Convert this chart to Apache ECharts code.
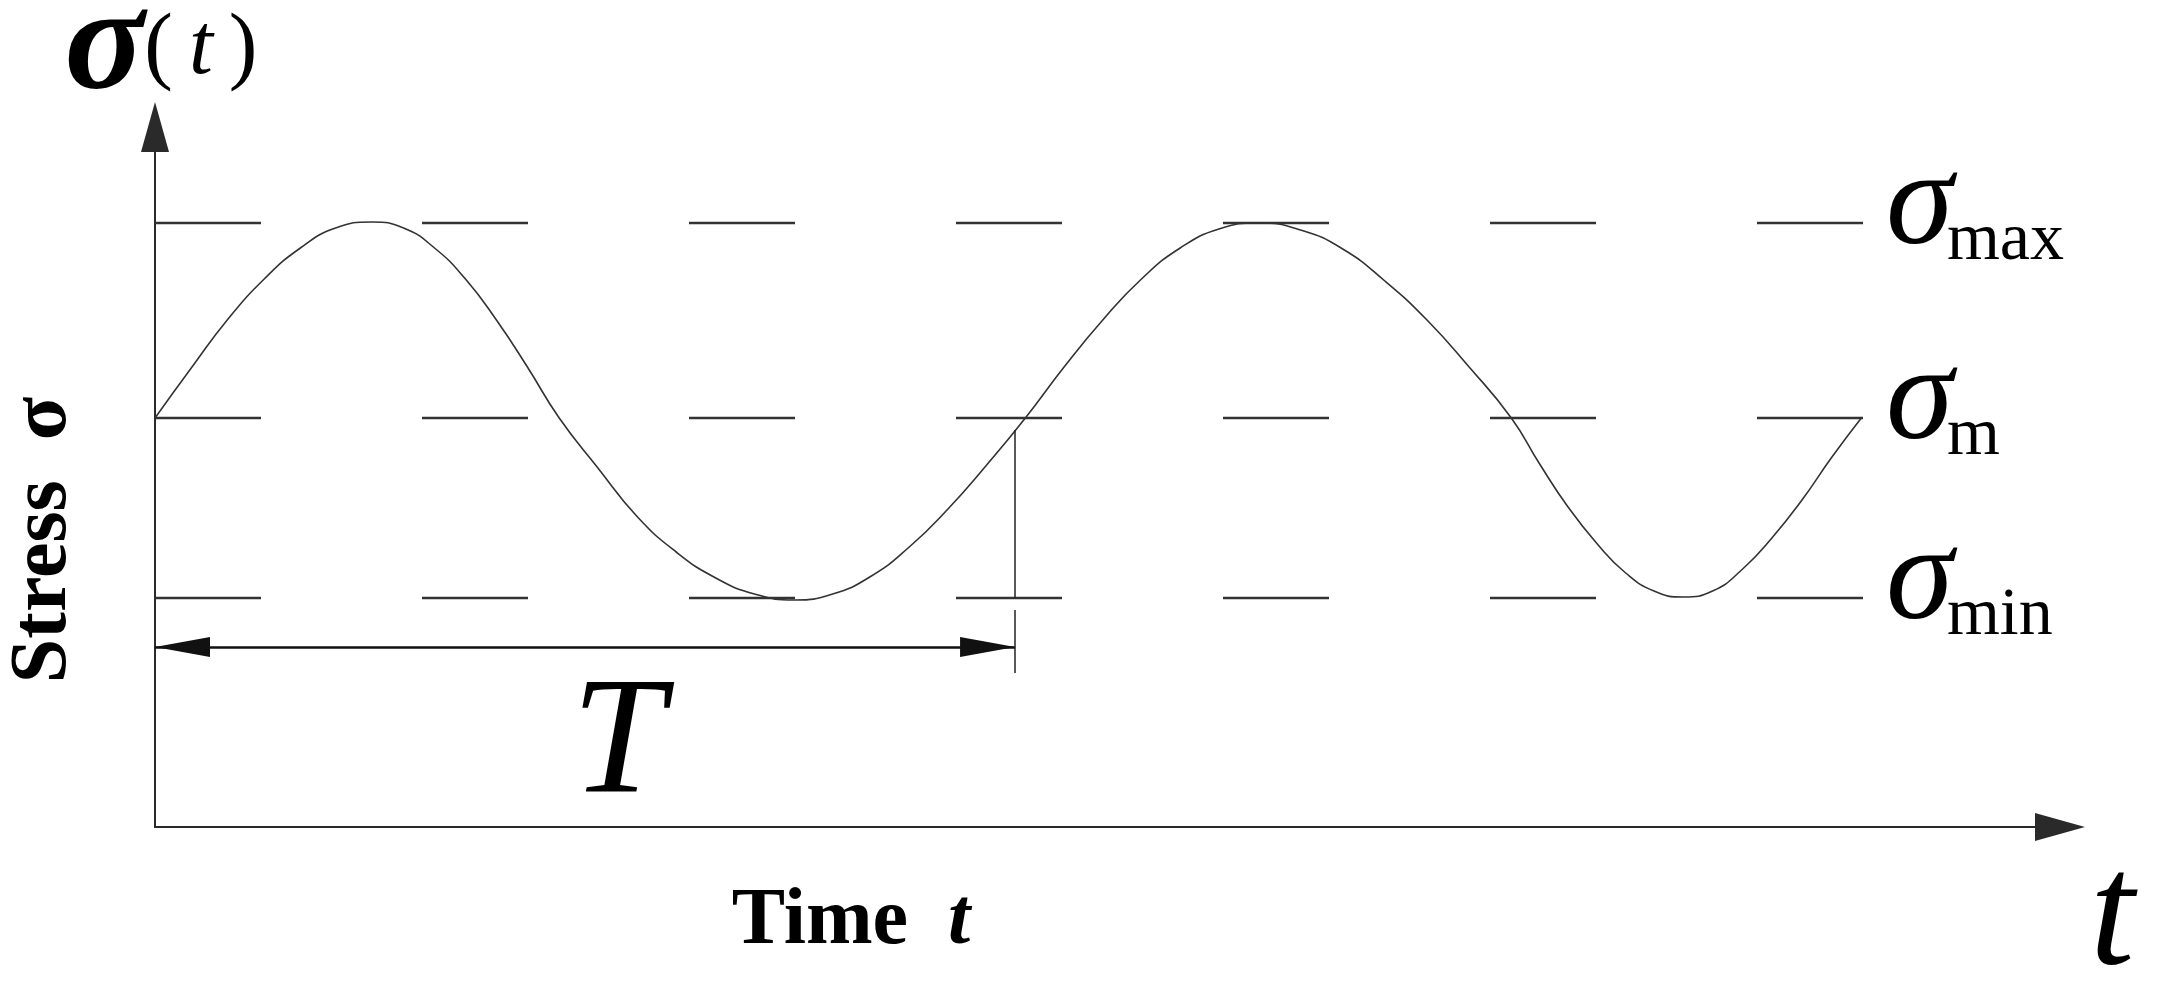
<!DOCTYPE html>
<html><head><meta charset="utf-8">
<script src="https://cdn.jsdelivr.net/npm/echarts@6/dist/echarts.min.js"></script>
<style>html,body{margin:0;padding:0;background:#fff}#c{width:2157px;height:984px}</style>
</head><body><div id="c"></div>
<script>
// ---- data (time in units where one period T = 10, stress in arbitrary units) ----
const timePts = [0, 0.43, 0.84, 1.27, 1.69, 2.10, 2.52, 2.89, 3.25, 3.61, 3.97, 4.33, 4.70, 5.15, 5.60, 6.06, 6.52, 6.97, 7.43, 7.88, 8.33, 8.77, 9.22, 9.67, 10.12, 10.57, 11.02, 11.47, 11.92, 12.37, 12.83, 13.32, 13.81, 14.30, 14.79, 15.28, 15.77, 16.10, 16.43, 16.77, 17.10, 17.43, 17.77, 18.11, 18.46, 18.80, 19.15, 19.49, 19.84];
const stressPts = [4.09, 4.60, 5.07, 5.48, 5.79, 5.99, 6.05, 5.99, 5.79, 5.48, 5.07, 4.60, 4.09, 3.59, 3.11, 2.75, 2.49, 2.33, 2.27, 2.33, 2.51, 2.80, 3.18, 3.62, 4.09, 4.60, 5.07, 5.48, 5.79, 5.98, 6.04, 5.97, 5.78, 5.46, 5.07, 4.60, 4.09, 3.63, 3.20, 2.83, 2.54, 2.36, 2.30, 2.36, 2.58, 2.89, 3.27, 3.69, 4.09];
const levelNames = ['max', 'm', 'min'];
const levelValues = [6.04, 4.09, 2.29];
const levelRange = [0, 19.87];
const periodT = 10;
const periodArrowY = 1.80;
const periodLineTop = 3.97;
const extensionRange = [2.17, 1.54];
const xRange = [0, 22.15];
const yRange = [0, 7];

const SERIF = '"Liberation Serif", "Times New Roman", serif';
const chart = echarts.init(document.getElementById('c'), null, {renderer: 'canvas'});

const curve = timePts.map((t, i) => [t, stressPts[i]]);

const levelSeries = levelValues.map((v, i) => ({
  type: 'line',
  name: 'sigma_' + levelNames[i],
  data: [[levelRange[0], v], [levelRange[1], v]],
  showSymbol: false,
  symbol: 'none',
  silent: true,
  lineStyle: {color: '#333', width: 2.3, type: [106, 161]},
  endLabel: {
    show: true,
    distance: 22,
    padding: [0, 0, 32, 0],
    formatter: '{s|σ}{sub|' + levelNames[i] + '}',
    rich: {
      s: {fontFamily: SERIF, fontStyle: 'italic', fontSize: 136, color: '#000'},
      sub: {fontFamily: SERIF, fontSize: 68, color: '#000', verticalAlign: 'bottom', padding: [0, 0, 0, -6]}
    }
  },
  z: 2
}));

const arrowEnd = {symbol: 'triangle', symbolSize: [20, 55], symbolOffset: [0, 27.5]};

const option = {
  backgroundColor: '#fff',
  animation: false,
  grid: {left: 155, right: 97, top: 127, bottom: 157, containLabel: false, outerBoundsMode: 'none'},
  xAxis: {
    type: 'value', min: xRange[0], max: xRange[1],
    axisLine: {show: true, onZero: false, lineStyle: {color: '#2a2a2a', width: 2}, symbol: ['none', 'triangle'], symbolSize: [28, 50]},
    axisTick: {show: false}, axisLabel: {show: false}, splitLine: {show: false},
    name: 't', nameLocation: 'end', nameGap: 30,
    nameTextStyle: {fontFamily: SERIF, fontStyle: 'italic', fontSize: 160, color: '#000', verticalAlign: 'top', lineHeight: 188}
  },
  yAxis: {
    type: 'value', min: yRange[0], max: yRange[1],
    axisLine: {show: true, onZero: false, lineStyle: {color: '#2a2a2a', width: 2}, symbol: ['none', 'triangle'], symbolSize: [28, 50]},
    axisTick: {show: false}, axisLabel: {show: false}, splitLine: {show: false},
    name: '{s|σ}{p|(}{t|t}{p|)}', nameLocation: 'end', nameGap: 3,
    nameTextStyle: {
      rich: {
        s: {fontFamily: SERIF, fontStyle: 'italic', fontWeight: 'bold', fontSize: 148, color: '#000', padding: [0, 0, 0, 12]},
        p: {fontFamily: SERIF, fontSize: 86, color: '#000', verticalAlign: 'middle'},
        t: {fontFamily: SERIF, fontStyle: 'italic', fontSize: 86, color: '#000', verticalAlign: 'middle', padding: [0, 16, 0, 16]}
      }
    }
  },
  series: [
    {
      type: 'line', name: 'stress', data: curve, smooth: true, showSymbol: false, symbol: 'none',
      lineStyle: {color: '#333', width: 1.6}, z: 3
    },
    ...levelSeries,
    {
      type: 'line', name: 'annotations', data: [], silent: true,
      markLine: {
        silent: true, symbol: ['none', 'none'], label: {show: false}, emphasis: {disabled: true},
        lineStyle: {color: '#222', width: 1.5, type: 'solid'},
        data: [
          [Object.assign({coord: [0, periodArrowY], lineStyle: {width: 2.6, color: '#111'}}, arrowEnd),
           Object.assign({coord: [periodT, periodArrowY]}, arrowEnd)],
          [{coord: [periodT, periodLineTop]}, {coord: [periodT, levelValues[2]]}],
          [{coord: [periodT, extensionRange[0]]}, {coord: [periodT, extensionRange[1]]}]
        ]
      }
    }
  ],
  graphic: [
    {type: 'text', x: 44, y: 540, rotation: Math.PI / 2,
     style: {text: 'Stress  σ', font: 'bold 80px ' + SERIF, fill: '#000', textAlign: 'center', textVerticalAlign: 'middle', align: 'center', verticalAlign: 'middle'}},
    {type: 'text', x: 851, y: 922,
     style: {text: '{a|Time  }{b|t}', fill: '#000', textAlign: 'center', textVerticalAlign: 'middle', align: 'center', verticalAlign: 'middle',
       rich: {a: {fontFamily: SERIF, fontWeight: 'bold', fontSize: 80}, b: {fontFamily: SERIF, fontWeight: 'bold', fontStyle: 'italic', fontSize: 80}}}},
    {type: 'text', x: 618, y: 748,
     style: {text: 'T', font: 'italic 167px ' + SERIF, fill: '#000', textAlign: 'center', textVerticalAlign: 'middle', align: 'center', verticalAlign: 'middle'}}
  ]
};
chart.setOption(option);
</script>
</body></html>
